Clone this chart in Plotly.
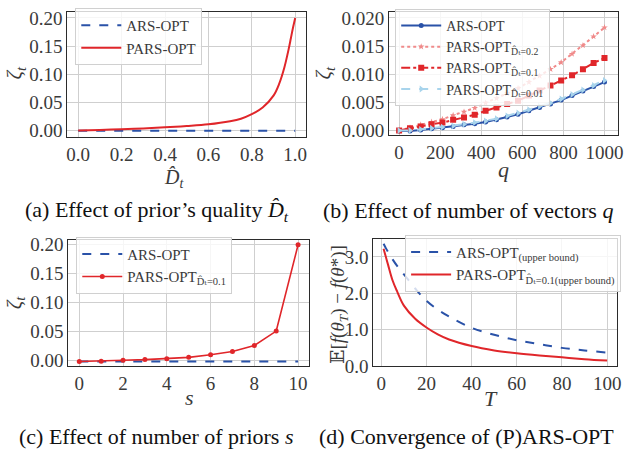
import plotly.graph_objects as go

# ---------------- data ----------------
# (a) effect of prior's quality
a_D = [0.0, 0.1, 0.2, 0.3, 0.4, 0.5, 0.6, 0.7, 0.75, 0.8, 0.85, 0.9, 0.925, 0.95, 0.97, 0.98, 0.99, 1.0]
a_pars = [0.0, 0.0011, 0.0023, 0.0038, 0.0057, 0.0080, 0.011, 0.0165, 0.021, 0.029, 0.041, 0.062,
          0.082, 0.112, 0.145, 0.164, 0.183, 0.200]
a_ars = [-0.0004] * len(a_D)

# (b) effect of number of vectors q
b_q = [0, 53, 105, 158, 211, 263, 316, 368, 421, 474, 526, 579, 632, 684, 737, 789, 842, 895, 947, 1000]
b_ars = [-0.0001, -0.0001, 0.0001, 0.0003, 0.0005, 0.0007, 0.0010, 0.0012, 0.0015, 0.0019,
         0.0024, 0.0029, 0.0035, 0.0041, 0.0047, 0.0054, 0.0062, 0.0070, 0.0078, 0.0086]
b_p02 = [0.0000, 0.0005, 0.0010, 0.0015, 0.0020, 0.0027, 0.0033, 0.0040, 0.0049, 0.0057,
         0.0066, 0.0075, 0.0086, 0.0097, 0.0109, 0.0121, 0.0136, 0.0151, 0.0167, 0.0183]
b_p01 = [0.0000, 0.0004, 0.0007, 0.0011, 0.0014, 0.0019, 0.0023, 0.0028, 0.0035, 0.0041,
         0.0047, 0.0053, 0.0062, 0.0071, 0.0080, 0.0089, 0.0098, 0.0109, 0.0120, 0.0129]
b_p001 = [0.0000, 0.0000, 0.0002, 0.0004, 0.0006, 0.0008, 0.0011, 0.0014, 0.0017, 0.0021,
          0.0026, 0.0031, 0.0037, 0.0043, 0.0049, 0.0056, 0.0064, 0.0072, 0.0080, 0.0089]

# (c) effect of number of priors s
c_s = [0, 1, 2, 3, 4, 5, 6, 7, 8, 9, 10]
c_pars = [-0.0015, -0.001, 0.0006, 0.0017, 0.0033, 0.0056, 0.010, 0.0156, 0.026, 0.051, 0.200]
c_ars = [-0.0017] * len(c_s)

# (d) convergence
d_T = [1, 2, 3, 5, 7, 10, 15, 20, 25, 30, 40, 50, 60, 70, 80, 90, 100]
d_ars = [3.36, 3.24, 3.13, 2.93, 2.75, 2.52, 2.13, 1.79, 1.55, 1.36, 1.05, 0.86, 0.71, 0.60, 0.50, 0.43, 0.37]
d_pars = [3.22, 3.00, 2.78, 2.35, 2.05, 1.66, 1.30, 1.06, 0.87, 0.73, 0.55, 0.43, 0.35, 0.29, 0.24, 0.19, 0.15]

# ---------------- style ----------------
BLUE = "#2a52a8"
RED = "#e0262a"
PINK = "#f08a8a"
LBLUE = "#a8d4ec"
FONT = "'Liberation Serif', 'DejaVu Serif', serif"
TXT = "#3a3a3a"
W, H = 629, 463

def px_x(p):
    return p / W

def px_y(p):
    return 1 - p / H

fig = go.Figure()

# (a)
fig.add_trace(go.Scatter(x=a_D, y=a_ars, mode="lines", name="ARS-OPT",
                         line=dict(color=BLUE, dash="dash", width=2), xaxis="x", yaxis="y", legend="legend"))
fig.add_trace(go.Scatter(x=a_D, y=a_pars, mode="lines", name="PARS-OPT", line_shape="spline",
                         line=dict(color=RED, width=2), xaxis="x", yaxis="y", legend="legend"))

# (b)
fig.add_trace(go.Scatter(x=b_q, y=b_ars, mode="lines+markers", name="ARS-OPT",
                         line=dict(color=BLUE, width=2), marker=dict(symbol="circle", size=5, color=BLUE),
                         xaxis="x2", yaxis="y2", legend="legend2"))
fig.add_trace(go.Scatter(x=b_q, y=b_p02, mode="lines+markers", name="PARS-OPT<sub>D̂ₜ=0.2</sub>",
                         line=dict(color=PINK, width=2, dash="dot"), marker=dict(symbol="star", size=5, color=PINK),
                         xaxis="x2", yaxis="y2", legend="legend2"))
fig.add_trace(go.Scatter(x=b_q, y=b_p01, mode="lines+markers", name="PARS-OPT<sub>D̂ₜ=0.1</sub>",
                         line=dict(color=RED, width=2, dash="dashdot"), marker=dict(symbol="square", size=6, color=RED),
                         xaxis="x2", yaxis="y2", legend="legend2"))
fig.add_trace(go.Scatter(x=b_q, y=b_p001, mode="lines+markers", name="PARS-OPT<sub>D̂ₜ=0.01</sub>",
                         line=dict(color=LBLUE, width=2, dash="dash"),
                         marker=dict(symbol="triangle-right", size=6, color=LBLUE),
                         xaxis="x2", yaxis="y2", legend="legend2"))

# (c)
fig.add_trace(go.Scatter(x=c_s, y=c_ars, mode="lines", name="ARS-OPT",
                         line=dict(color=BLUE, dash="dash", width=2), xaxis="x3", yaxis="y3", legend="legend3"))
fig.add_trace(go.Scatter(x=c_s, y=c_pars, mode="lines+markers", name="PARS-OPT<sub>D̂ₜ=0.1</sub>",
                         line=dict(color=RED, width=1.6), marker=dict(symbol="circle", size=5, color=RED),
                         xaxis="x3", yaxis="y3", legend="legend3"))

# (d)
fig.add_trace(go.Scatter(x=d_T, y=d_ars, mode="lines", name="ARS-OPT<sub>(upper bound)</sub>", line_shape="spline",
                         line=dict(color=BLUE, dash="dash", width=2), xaxis="x4", yaxis="y4", legend="legend4"))
fig.add_trace(go.Scatter(x=d_T, y=d_pars, mode="lines", name="PARS-OPT<sub>D̂ₜ=0.1(upper bound)</sub>",
                         line_shape="spline",
                         line=dict(color=RED, width=2), xaxis="x4", yaxis="y4", legend="legend4"))

def ax(dom, rng, tickvals, ticktext, anchor):
    return dict(domain=dom, range=rng, tickvals=tickvals, ticktext=ticktext, anchor=anchor,
                showgrid=True, gridcolor="#cfcfcf", gridwidth=1, zeroline=False,
                showline=True, linecolor="#2b2b2b", linewidth=1.3, mirror=True, ticks="",
                tickfont=dict(family=FONT, size=19, color=TXT))

a_xt = [0.0, 0.2, 0.4, 0.6, 0.8, 1.0]
a_yt = [0.0, 0.05, 0.10, 0.15, 0.20]
b_xt = [0, 200, 400, 600, 800, 1000]
b_yt = [0.0, 0.005, 0.010, 0.015, 0.020]
c_xt = [0, 2, 4, 6, 8, 10]
c_yt = [0.0, 0.05, 0.10, 0.15, 0.20]
d_xt = [0, 20, 40, 60, 80, 100]
d_yt = [0.0, 1.0, 2.0, 3.0]

def legend_style(size):
    return dict(bgcolor="rgba(255,255,255,0.8)", bordercolor="#d0d0d0", borderwidth=1,
                font=dict(family=FONT, size=size, color=TXT), xanchor="left", yanchor="top",
                itemwidth=40, tracegroupgap=0)

fig.update_layout(
    width=W, height=H, margin=dict(l=0, r=0, t=0, b=0),
    paper_bgcolor="white", plot_bgcolor="white", showlegend=True,
    font=dict(family=FONT, color=TXT),
    xaxis=ax([px_x(67), px_x(308)], [-0.05, 1.05], a_xt, [f"{v:.1f}" for v in a_xt], "y"),
    yaxis=ax([px_y(137), px_y(7)], [-0.012, 0.211], a_yt, [f"{v:.2f}" for v in a_yt], "x"),
    xaxis2=ax([px_x(392), px_x(623)], [-48, 1066], b_xt, [str(v) for v in b_xt], "y2"),
    yaxis2=ax([px_y(135), px_y(7)], [-0.00086, 0.0211], b_yt, [f"{v:.3f}" for v in b_yt], "x2"),
    xaxis3=ax([px_x(68), px_x(311)], [-0.5, 10.5], c_xt, [str(v) for v in c_xt], "y3"),
    yaxis3=ax([px_y(374), px_y(243)], [-0.0095, 0.209], c_yt, [f"{v:.2f}" for v in c_yt], "x3"),
    xaxis4=ax([px_x(376), px_x(622)], [-3.5, 104.4], d_xt, [str(v) for v in d_xt], "y4"),
    yaxis4=ax([px_y(374), px_y(242)], [0, 3.5], d_yt, [f"{v:.1f}" for v in d_yt], "x4"),
    legend=dict(x=px_x(75), y=px_y(3), **legend_style(15)),
    legend2=dict(x=px_x(398), y=px_y(4), **legend_style(14)),
    legend3=dict(x=px_x(76), y=px_y(240), **legend_style(15)),
    legend4=dict(x=px_x(408), y=px_y(238), **legend_style(15)),
)

ann = []
def label(x, y, text, size=20, angle=0, color=TXT):
    ann.append(dict(x=px_x(x), y=px_y(y), xref="paper", yref="paper", text=text, showarrow=False,
                    textangle=angle, xanchor="center", yanchor="middle",
                    font=dict(family=FONT, size=size, color=color)))

# axis labels
label(14, 70, "<i>ζ</i><sub><i>t</i></sub>", 21, -90)
label(326, 70, "<i>ζ</i><sub><i>t</i></sub>", 21, -90)
label(14, 308, "<i>ζ</i><sub><i>t</i></sub>", 21, -90)
label(342, 310, "𝔼[<i>f</i>(<i>θ</i><sub><i>T</i></sub>) − <i>f</i>(<i>θ</i>*)]", 19, -90)
label(175, 180, "<i>D̂</i><sub><i>t</i></sub>", 20)
label(507, 170, "<i>q</i>", 22)
label(190, 407, "<i>s</i>", 22)
label(495, 408, "<i>T</i>", 22)

# captions
label(157, 213, "(a) Effect of prior’s quality <i>D̂</i><sub><i>t</i></sub>", 22, 0, "#111111")
label(471, 213, "(b) Effect of number of vectors <i>q</i>", 22, 0, "#111111")
label(157, 447, "(c) Effect of number of priors <i>s</i>", 22, 0, "#111111")
label(470, 447, "(d) Convergence of (P)ARS-OPT", 22, 0, "#111111")

fig.update_layout(annotations=ann)
fig.write_html("out.html")
